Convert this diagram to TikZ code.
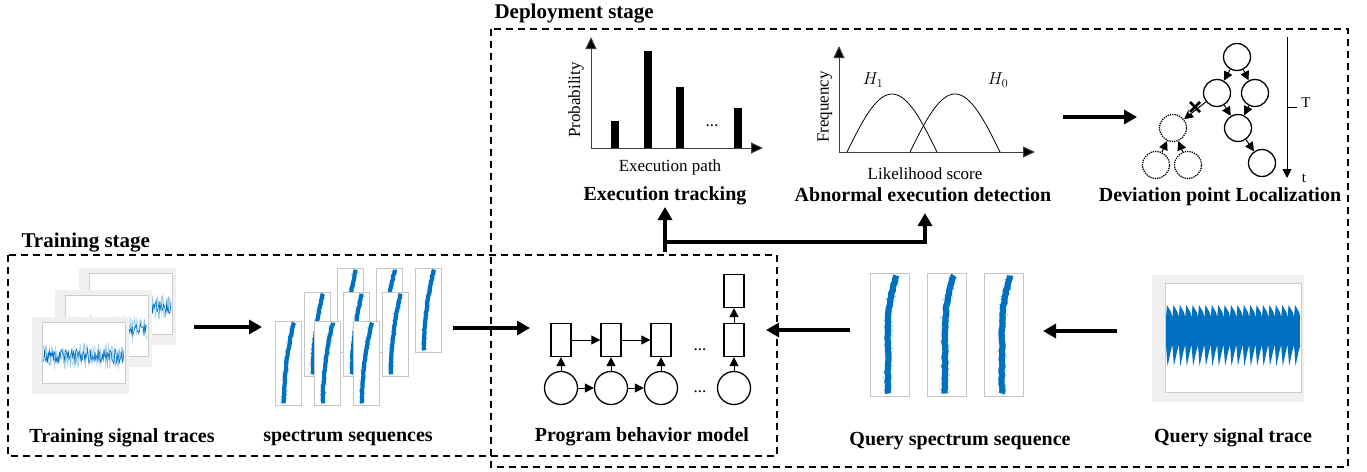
\documentclass[tikz,border=0pt]{standalone}
\usepackage{fontspec}
\setmainfont{Liberation Serif}
\usepackage{tikz}
\usetikzlibrary{arrows.meta, positioning}

\definecolor{sigblue}{RGB}{0,112,192}
\definecolor{siglight}{RGB}{150,198,232}

\newcommand{\tracepanel}[2]{
  \begin{scope}[shift = {(#1,#2)}]
    \fill[gray!12] (0,0) rectangle (97,77);
    \fill[white] (10,5) rectangle (93,66);
    \draw[gray!40, line width = 0.3pt] (10,5) rectangle (93,66);
    \draw[siglight, line width = 0.5pt] plot[domain = 11:92, samples = 160] (\x, {39 + 13*rand});
    \draw[sigblue, line width = 0.6pt] plot[domain = 11:92, samples = 110] (\x, {39 + 7*rand});
  \end{scope}
}

\newcommand{\specstrip}[7]{
  \begin{scope}[shift = {(#1,#2)}]
    \draw[gray!45, fill = white, line width = 0.4pt] (0,0) rectangle (#3,#4);
    \draw[siglight, line width = 0.4pt] plot[domain = 0.02:0.98, samples = 90] ({#3*(#5 + #6*max(0,1-\x/#7)^2) + 0.14*#3*rand}, {#4*\x});
    \draw[sigblue, line width = {0.16*#3}] plot[smooth, domain = 0.02:0.98, samples = 40] ({#3*(#5 + #6*max(0,1-\x/#7)^2) + 0.015*#3*rand}, {#4*\x});
  \end{scope}
}

\begin{document}
\pgfmathsetseed{11}
\begin{tikzpicture} [
        x = 1pt, y = -1pt,
        stage/.style = { draw, dash pattern = on 7pt off 5pt, line width = 1.5pt },
        caption/.style = { font = \fontsize{20}{22}\selectfont\bfseries },
        stagetitle/.style = { font = \fontsize{21}{24}\selectfont\bfseries, anchor = west },
        axlabel/.style = { font = \fontsize{17}{19}\selectfont },
        flow/.style = { line width = 4pt, -{Triangle[length = 13pt, width = 14pt]} },
        link/.style = { line width = 1pt, -{Triangle[length = 9pt, width = 9pt]} },
        axisline/.style = { line width = 1pt, black!75, -{Triangle[length = 12pt, width = 11pt, fill = black]} },
        state/.style = { draw, circle, line width = 1.3pt, minimum size = 27pt, inner sep = 0 },
        ghost/.style = { state, densely dotted },
        cell/.style = { draw, line width = 1.3pt, minimum width = 20pt, minimum height = 33pt, inner sep = 0 },
        hidden/.style = { draw, circle, line width = 1.3pt, minimum size = 33pt, inner sep = 0 }
        ]
    \useasboundingbox (0,0) rectangle (1367,471);

    \draw[stage] (8,255) rectangle (777,456);
    \draw[stage] (491,29) rectangle (1348,467);
    \node (trainlbl) [stagetitle] at (18,243) {Training stage};
    \node (deploylbl) [stagetitle] at (491,14) {Deployment stage};

    % training signal traces
    \tracepanel{79}{268}
    \tracepanel{55}{290}
    \tracepanel{32}{317}
    \node (tracescap) [caption] at (122,438) {Training signal traces};

    % spectrum sequences
    \foreach \sx/\sy in {337/268, 376/268, 415/268, 304/292, 343/292, 382/292, 275/321, 314/321, 353/321}
        \specstrip{\sx}{\sy}{26}{84}{0.34}{0.40}{1};
    \node (speccap) [caption] at (348,438) {spectrum sequences};

    % program behavior model
    \foreach \i/\px in {1/561, 2/611, 3/661, 4/734} {
        \node (c\i) [cell] at (\px,340) {};
        \node (h\i) [hidden] at (\px,388) {};
        \draw[link] (h\i) -- (c\i);
    }
    \node (out) [cell] at (734,291) {};
    \draw[link] (c4) -- (out);
    \draw[link] (c1) -- (c2);
    \draw[link] (c2) -- (c3);
    \draw[link] (h1) -- (h2);
    \draw[link] (h2) -- (h3);
    \node (cdots) [axlabel] at (700,350) {...};
    \node (hdots) [axlabel] at (700,392) {...};
    \node (modelcap) [caption] at (642,437) {Program behavior model};

    % query spectrum sequence
    \foreach \sx in {870, 927, 984}
        \specstrip{\sx}{273}{39}{123}{0.46}{0.24}{0.45};
    \node (qspeccap) [caption] at (960,441) {Query spectrum sequence};

    % query signal trace
    \fill[gray!12] (1152,275) rectangle (1304,402);
    \fill[white] (1165,283) rectangle (1301,392);
    \draw[gray!40, line width = 0.3pt] (1165,283) rectangle (1301,392);
    \fill[sigblue] (1166,316) rectangle (1300,346);
    \foreach \i in {0,...,20} {
        \fill[sigblue] (1166+6.4*\i,317) -- (1167+6.4*\i,305) -- (1171+6.4*\i,312) -- (1172.4+6.4*\i,317) -- cycle;
        \fill[sigblue] (1166+6.4*\i,345) -- (1167.5+6.4*\i,366) -- (1170.5+6.4*\i,352) -- (1172.4+6.4*\i,345) -- cycle;
    }
    \node (qtracecap) [caption] at (1233,438) {Query signal trace};

    % main flow
    \coordinate (trR) at (194,327);
    \coordinate (spL) at (262,327);
    \coordinate (spR) at (453,328);
    \coordinate (pmL) at (530,328);
    \coordinate (qsL) at (850,330);
    \coordinate (pmR) at (766,330);
    \coordinate (qtL) at (1117,331);
    \coordinate (qsR) at (1043,331);
    \draw[flow] (trR) -- (spL);
    \draw[flow] (spR) -- (pmL);
    \draw[flow] (qsL) -- (pmR);
    \draw[flow] (qtL) -- (qsR);

    % execution tracking
    \coordinate (o1) at (591,148);
    \coordinate (o1y) at (591,37);
    \coordinate (o1x) at (763,148);
    \draw[axisline] (o1) -- (o1y);
    \draw[axisline] (o1) -- (o1x);
    \foreach \bx/\by in {611/121, 644/51, 676/87, 734/108}
        \fill (\bx,148) rectangle (\bx+8,\by);
    \node (bardots) [axlabel] at (712,126) {...};
    \node (problbl) [axlabel, rotate = 90] at (576,100) {Probability};
    \node (pathlbl) [axlabel] at (670,167) {Execution path};
    \node (trackcap) [caption] at (665,196) {Execution tracking};

    % abnormal execution detection
    \coordinate (o2) at (839,152);
    \coordinate (o2y) at (839,46);
    \coordinate (o2x) at (1035,152);
    \draw[axisline] (o2) -- (o2y);
    \draw[axisline] (o2) -- (o2x);
    \draw[line width = 0.8pt] plot[domain = 0:180, samples = 40] ({847 + 90*\x/180}, {152 - 58*sin(\x)});
    \draw[line width = 0.8pt] plot[domain = 0:180, samples = 40] ({910 + 90*\x/180}, {152 - 58*sin(\x)});
    \node (hone) [axlabel] at (873,80) {$H_1$};
    \node (hzero) [axlabel] at (998,80) {$H_0$};
    \node (freqlbl) [axlabel, rotate = 90] at (825,107) {Frequency};
    \node (scorelbl) [axlabel] at (925,174) {Likelihood score};
    \node (detectcap) [caption] at (923,195) {Abnormal execution detection};

    % bus from the model
    \coordinate (busA) at (665,252);
    \coordinate (busJ) at (665,242);
    \coordinate (busT1) at (665,207);
    \coordinate (busT2) at (925,213);
    \draw[flow] (busA) -- (busT1);
    \draw[flow] (busJ) -| (busT2);

    % deviation point localization
    \coordinate (detR) at (1063,117);
    \coordinate (devL) at (1137,117);
    \draw[flow] (detR) -- (devL);
    \node (d0) [state] at (1237,57) {};
    \node (d1) [state] at (1217,93) {};
    \node (d2) [state] at (1255,93) {};
    \node (d3) [state] at (1238,128) {};
    \node (d4) [state] at (1262,163) {};
    \node (g0) [ghost] at (1173,128) {};
    \node (g1) [ghost] at (1156,165) {};
    \node (g2) [ghost] at (1188,165) {};
    \draw[link] (d0) -- (d1);
    \draw[link] (d0) -- (d2);
    \draw[link] (d1) -- (d3);
    \draw[link] (d2) -- (d3);
    \draw[link] (d3) -- (d4);
    \draw[link] (d1) -- (g0);
    \draw[link] (g1) -- (g0);
    \draw[link] (g2) -- (g0);
    \draw[line width = 2.8pt, white] (1189,101) -- (1201,113) (1189,113) -- (1201,101);
    \draw[line width = 2.6pt] (1190,102) -- (1200,112) (1190,112) -- (1200,102);
    \coordinate (tTop) at (1287,37);
    \coordinate (tBot) at (1287,178);
    \draw[link] (tTop) -- (tBot);
    \draw[line width = 1pt] (1287,107) -- (1297,107);
    \node (bigT) [axlabel, font = \fontsize{15}{17}\selectfont] at (1306,103) {T};
    \node (smallt) [axlabel, font = \fontsize{15}{17}\selectfont] at (1304,178) {t};
    \node (devcap) [caption] at (1220,197) {Deviation point Localization};
\end{tikzpicture}
\end{document}
